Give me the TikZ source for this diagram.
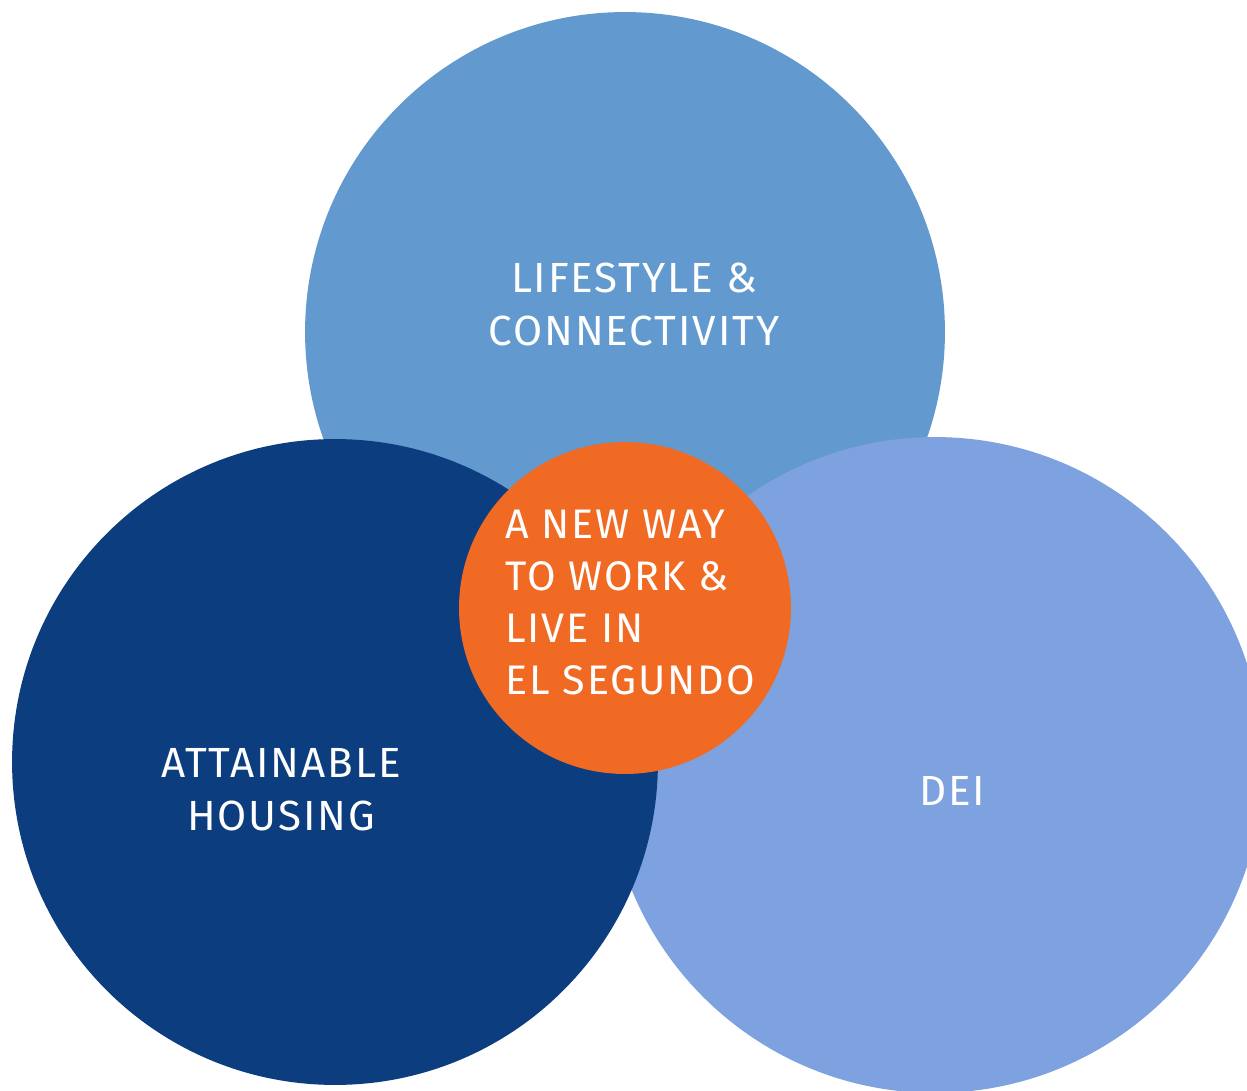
\documentclass[tikz,border=0pt]{standalone}
\usepackage{fontspec}
\setmainfont{Fira Sans}[LetterSpace=4.5]
\definecolor{topblue}{HTML}{6299CF}
\definecolor{darkblue}{HTML}{0C3D7F}
\definecolor{rightblue}{HTML}{7DA2DF}
\definecolor{orangec}{HTML}{F16A24}
\begin{document}
\begin{tikzpicture}[x=0.02cm,y=-0.02cm,
  venn/.style={circle,inner sep=0pt,outer sep=0pt,draw=none},
  lbl/.style={text=white,font=\fontsize{24}{28}\selectfont,inner sep=0pt,anchor=base},
  corelbl/.style={lbl,anchor=base west,font=\fontsize{23.5}{28}\selectfont}]
\useasboundingbox (0,0) rectangle (1247,1091);
\clip (0,0) rectangle (1247,1091);
\fill[white] (0,0) rectangle (1247,1091);
\node[venn,fill=topblue,minimum size=12.8cm] (lifestyle) at (625,332) {};
\node[venn,fill=rightblue,minimum size=13.12cm] (dei) at (935,765) {};
\node[venn,fill=darkblue,minimum size=12.92cm] (housing) at (335,762) {};
\node[venn,fill=orangec,minimum size=6.64cm] (core) at (625,608) {};
% labels
\node[lbl] (t1) at (634,292) {LIFESTYLE \&};
\node[lbl] (t2) at (634,345) {CONNECTIVITY};
\node[corelbl] (c1) at (505,538) {A NEW WAY};
\node[corelbl] (c2) at (505,590) {TO WORK \&};
\node[corelbl] (c3) at (505,642) {LIVE IN};
\node[corelbl] (c4) at (505,694) {EL SEGUNDO};
\node[lbl] (h1) at (281,777) {ATTAINABLE};
\node[lbl] (h2) at (281,830) {HOUSING};
\node[lbl] (d1) at (952,805) {DEI};
\end{tikzpicture}
\end{document}
